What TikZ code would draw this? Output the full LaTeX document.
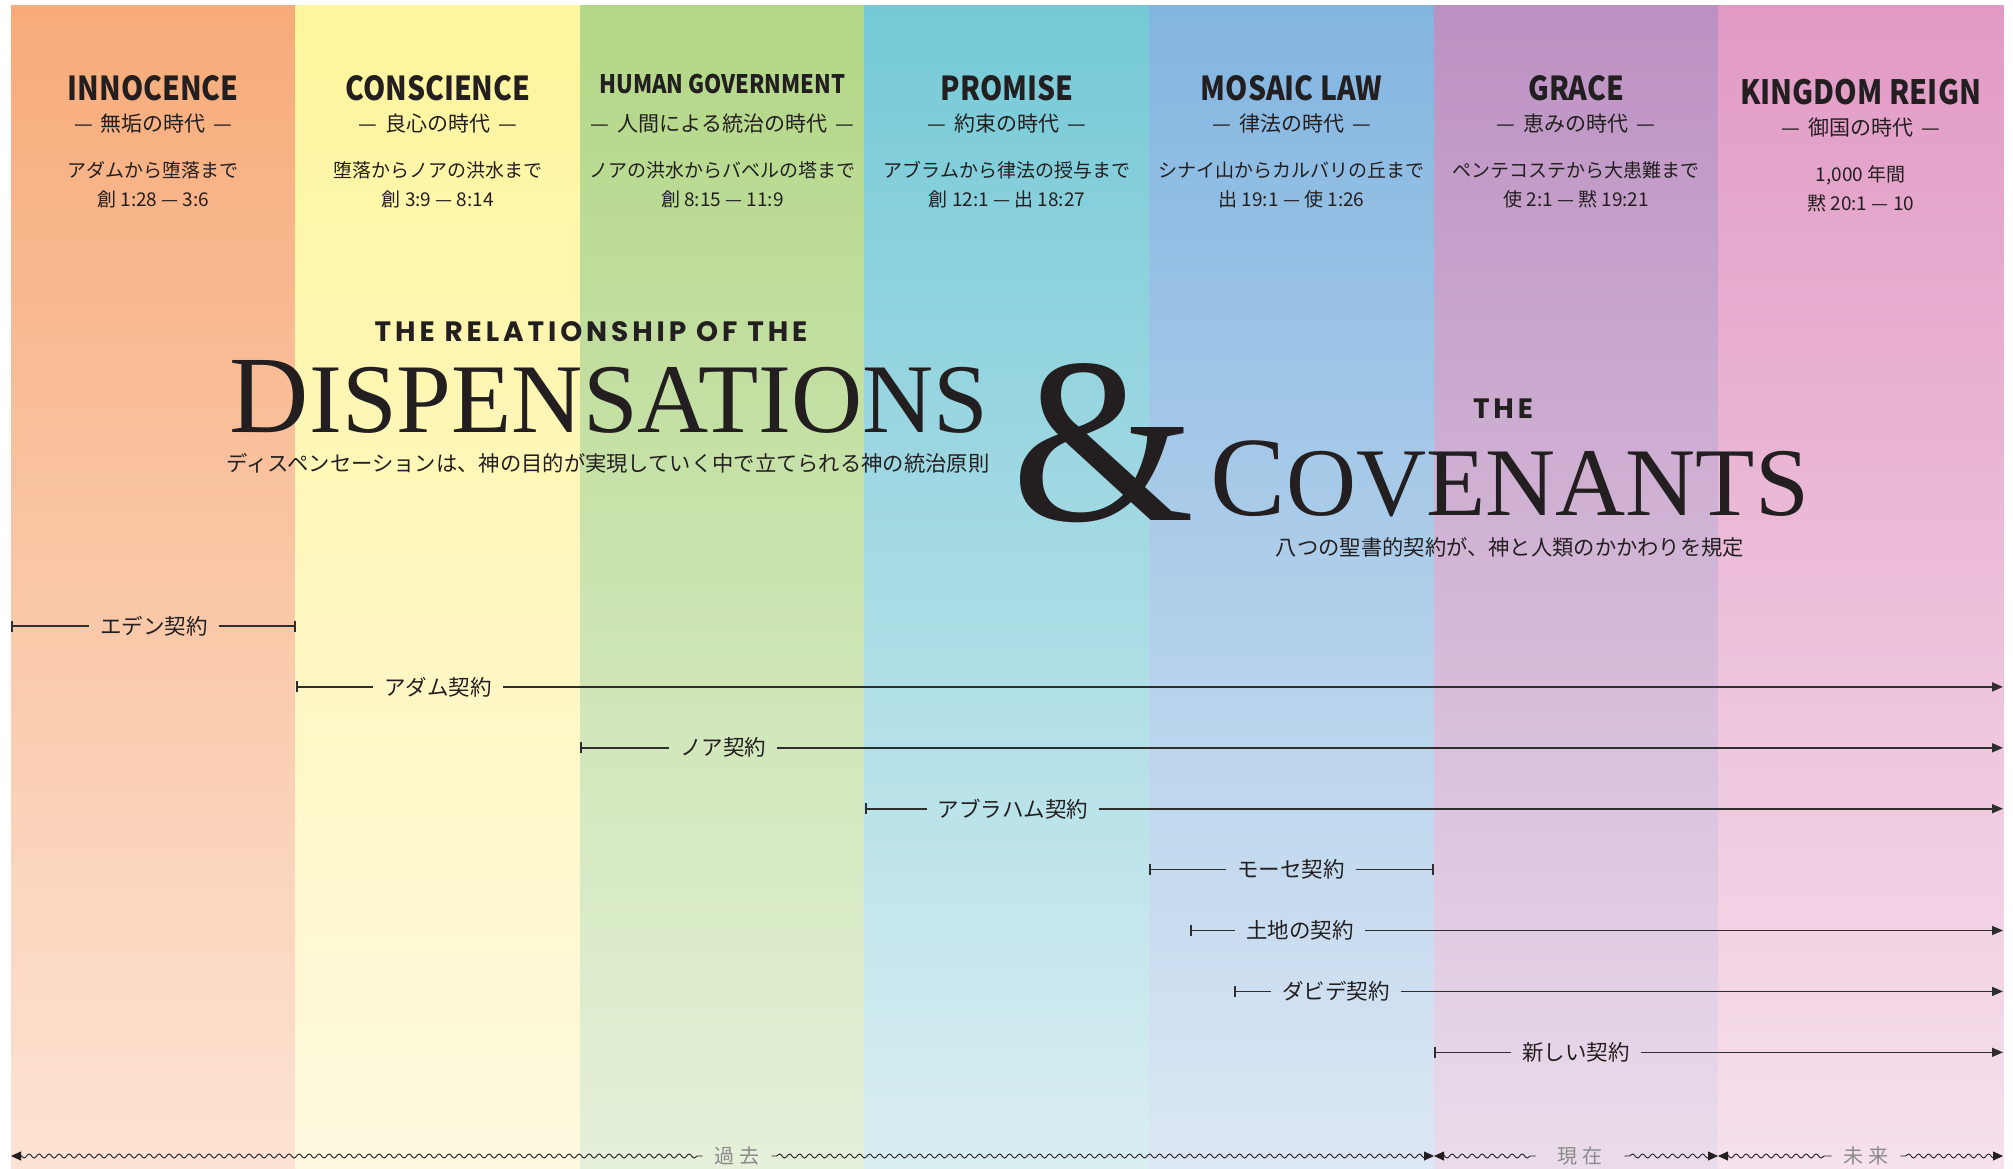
\documentclass[tikz,border=0pt]{standalone}
\usepackage{fontspec}
\setmainfont{Noto Sans CJK JP}
\newfontfamily\headfont[FakeStretch=0.86]{Noto Sans CJK JP}
\newfontfamily\trackfont[LetterSpace=14]{Poppins}
\newfontfamily\romanfont{Liberation Serif}
\usetikzlibrary{positioning,arrows.meta,decorations.pathmorphing}

\definecolor{ink}{HTML}{231F20}
\definecolor{linegray}{HTML}{2E2E2E}
\definecolor{faded}{HTML}{8A8A8A}
\definecolor{top1}{HTML}{F7AB79}\definecolor{bot1}{HTML}{FDE3D4}
\definecolor{top2}{HTML}{FEF59D}\definecolor{bot2}{HTML}{FEF9E0}
\definecolor{top3}{HTML}{B2D786}\definecolor{bot3}{HTML}{E5F0DA}
\definecolor{top4}{HTML}{75C9D7}\definecolor{bot4}{HTML}{DAEEF2}
\definecolor{top5}{HTML}{82B5E0}\definecolor{bot5}{HTML}{DCE7F4}
\definecolor{top6}{HTML}{BC91C2}\definecolor{bot6}{HTML}{EADCEB}
\definecolor{top7}{HTML}{E29AC5}\definecolor{bot7}{HTML}{F6E1EC}

\def\colsep{284.57}

\begin{document}
\begin{tikzpicture}[
    x=1pt, y=-1pt,
    title/.style={font=\headfont\bfseries\fontsize{#1}{#1}\selectfont, text=ink, anchor=base, inner sep=0pt},
    era/.style={font=\fontsize{21}{21}\selectfont, text=ink, anchor=base, inner sep=0pt},
    detail/.style={font=\fontsize{19}{19}\selectfont, text=ink, anchor=base, inner sep=0pt},
    banner/.style={font=\trackfont\bfseries\fontsize{28}{28}\selectfont, text=ink, anchor=base, inner sep=0pt},
    headline/.style={font=\romanfont, text=ink, anchor=base, inner sep=0pt},
    motto/.style={font=\fontsize{21.3}{21.3}\selectfont, text=ink, anchor=base, inner sep=0pt},
    covenant/.style={font=\fontsize{21.5}{21.5}\selectfont, text=ink, inner xsep=11pt, inner ysep=0pt},
    link/.style={draw=linegray, line width=1.6pt},
    barstart/.style={link, {Bar[width=11pt]}-},
    barred/.style={link, -{Bar[width=11pt]}},
    arrowed/.style={link, -{Triangle[length=11pt, width=9pt]}},
    age/.style={font=\fontsize{20}{20}\selectfont, text=faded, inner ysep=0pt},
    wave/.style={draw=ink, line width=0.9pt, decorate,
        decoration={snake, amplitude=2pt, segment length=10pt, pre length=5pt, post length=5pt}},
    waveback/.style={wave, {Triangle[length=10pt, width=9pt]}-},
    wavefwd/.style={wave, -{Triangle[length=10pt, width=9pt]}}
]
    \useasboundingbox (0,0) rectangle (2013,1168);
    \fill[white] (0,0) rectangle (2013,1168);

    % Draw the dispensation columns
    \foreach \i in {1,...,7}
        \shade[top color=top\i, bottom color=bot\i]
            ({11+\colsep*(\i-1)},5) rectangle ({11+\colsep*\i+0.5},1168);

    % Draw the dispensation headings
    \foreach \i/\ttl/\tsz/\tb/\era/\rng/\vrs/\dy in {
        1/INNOCENCE/33/100/無垢/アダムから堕落まで/創 1:28 — 3:6/0,
        2/CONSCIENCE/33/100/良心/堕落からノアの洪水まで/創 3:9 — 8:14/0,
        3/HUMAN GOVERNMENT/25.5/93/人間による統治/ノアの洪水からバベルの塔まで/創 8:15 — 11:9/0,
        4/PROMISE/33/100/約束/アブラムから律法の授与まで/創 12:1 — 出 18:27/0,
        5/MOSAIC LAW/33/100/律法/シナイ山からカルバリの丘まで/出 19:1 — 使 1:26/0,
        6/GRACE/33/100/恵み/ペンテコステから大患難まで/使 2:1 — 黙 19:21/0,
        7/KINGDOM REIGN/33.5/104/御国/{1,000 年間}/黙 20:1 — 10/4}
    {
        \pgfmathsetmacro\cx{11+\colsep*(\i-0.5)}
        \node[title=\tsz] (ttl-\i) at (\cx,\tb) {\ttl};
        \node[era] (era-\i) at (\cx,131+\dy) {—\hspace{8pt}\era の時代\hspace{8pt}—};
        \node[detail] (rng-\i) at (\cx,177+\dy) {\rng};
        \node[detail] (vrs-\i) at (\cx,206+\dy) {\vrs};
    }

    % Draw the title
    \node[banner] (banner) at (591,341) {THE RELATIONSHIP OF THE};
    \node[headline] (dispensations) at (609,432)
        {\fontsize{110}{110}\selectfont D\fontsize{98.5}{98.5}\selectfont ISPENSATIONS};
    \node[motto] (dispensations-jp) at (608,471)
        {ディスペンセーションは、神の目的が実現していく中で立てられる神の統治原則};
    \node[headline, font=\romanfont\fontsize{236}{236}\selectfont] (amp) at (1103,520) {\&};
    \node[banner] (the) at (1503,418) {THE};
    \node[headline] (covenants) at (1510,515)
        {\fontsize{113}{113}\selectfont C\fontsize{97}{97}\selectfont OVENANTS};
    \node[motto] (covenants-jp) at (1510,555) {八つの聖書的契約が、神と人類のかかわりを規定};

    % Draw the covenants
    \foreach \k/\sx/\lx/\ex/\tip/\cov in {
        1/11/154/296/barred/エデン契約,
        2/296/438/2003/arrowed/アダム契約,
        3/580/723/2003/arrowed/ノア契約,
        4/865/1013/2003/arrowed/アブラハム契約,
        5/1149/1291/1434/barred/モーセ契約,
        6/1190/1300/2003/arrowed/土地の契約,
        7/1234/1336/2003/arrowed/ダビデ契約,
        8/1434/1576/2003/arrowed/新しい契約}
    {
        \pgfmathsetmacro\cy{626+60.9*(\k-1)}
        \coordinate (cov-\k-start) at (\sx,\cy);
        \coordinate (cov-\k-end) at (\ex,\cy);
        \node[covenant] (cov-\k) at (\lx,\cy) {\cov};
        \draw[barstart] (cov-\k-start) -- (cov-\k.west);
        \draw[\tip] (cov-\k.east) -- (cov-\k-end);
    }

    % Draw the time line
    \foreach \a/\sx/\lx/\ex/\gap/\age in {
        1/11/737/1434/12/過 去,
        2/1434/1580/1718/22/現 在,
        3/1718/1866/2003/12/未 来}
    {
        \coordinate (age-\a-start) at (\sx,1156);
        \coordinate (age-\a-end) at (\ex,1156);
        \node[age, inner xsep=\gap pt] (age-\a) at (\lx,1156) {\age};
        \draw[waveback] (age-\a-start) -- (age-\a.west);
        \draw[wavefwd] (age-\a.east) -- (age-\a-end);
    }
\end{tikzpicture}
\end{document}
